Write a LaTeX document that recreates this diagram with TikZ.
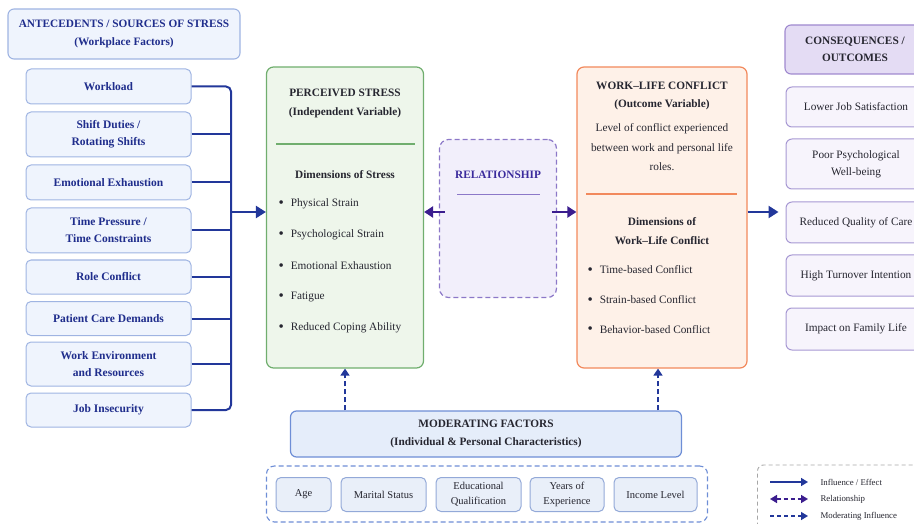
\documentclass[tikz,border=0pt]{standalone}
\usepackage{fontspec}
\setmainfont{Liberation Serif}
\usetikzlibrary{arrows.meta}
\definecolor{navy}{HTML}{22379A}
\definecolor{srctext}{HTML}{1F2D8C}
\definecolor{srcfill}{HTML}{EFF4FD}
\definecolor{srcedge}{HTML}{9FB4E2}
\definecolor{psfill}{HTML}{EEF6EB}
\definecolor{psedge}{HTML}{70AE6E}
\definecolor{wlfill}{HTML}{FEF1E8}
\definecolor{wledge}{HTML}{F2895C}
\definecolor{relfill}{HTML}{F2EFFB}
\definecolor{reledge}{HTML}{8C78C8}
\definecolor{reltext}{HTML}{3A2A9C}
\definecolor{relarrow}{HTML}{3B1D8E}
\definecolor{confill}{HTML}{E4DCF4}
\definecolor{conedge}{HTML}{9F89CF}
\definecolor{outfill}{HTML}{F7F4FC}
\definecolor{outedge}{HTML}{A798D3}
\definecolor{modfill}{HTML}{E5EDFA}
\definecolor{modedge}{HTML}{6E8ED6}
\definecolor{chrfill}{HTML}{E9EFF9}
\definecolor{chredge}{HTML}{93A9D8}
\definecolor{darktext}{HTML}{262630}
\newcommand{\blt}{\raisebox{-0.6pt}{\fontsize{15}{15}\selectfont\textbullet}\hspace{7pt}}

\begin{document}
\begin{tikzpicture}[x=1pt,y=-1pt,
  every node/.style={font=\fontsize{11.3}{17}\selectfont,text=darktext},
  headbox/.style={draw=srcedge,fill=srcfill,rounded corners=6pt,line width=1.1pt,text=srctext,
    font=\fontsize{11.3}{18}\selectfont\bfseries,align=center,minimum width=232pt,minimum height=50pt},
  srcbox/.style={draw=srcedge,fill=srcfill,rounded corners=5pt,line width=1pt,text=srctext,
    font=\fontsize{11.5}{17}\selectfont\bfseries,align=center,minimum width=165pt},
  bigbox/.style={rounded corners=7pt,line width=1.2pt,minimum width=157pt,minimum height=301pt},
  boldtxt/.style={font=\fontsize{11.3}{19}\selectfont\bfseries,align=center},
  plaintxt/.style={font=\fontsize{11.3}{19.5}\selectfont,align=center},
  item/.style={anchor=west,font=\fontsize{11.3}{17}\selectfont},
  conhead/.style={draw=conedge,fill=confill,rounded corners=6pt,line width=1.1pt,
    font=\fontsize{11.3}{17}\selectfont\bfseries,align=center,minimum width=140pt,minimum height=49pt},
  outbox/.style={draw=outedge,fill=outfill,rounded corners=6pt,line width=1pt,align=center,
    minimum width=140pt},
  chrbox/.style={draw=chredge,fill=chrfill,rounded corners=5pt,line width=1pt,align=center,
    font=\fontsize{10.5}{15}\selectfont,minimum height=34pt},
  legtxt/.style={anchor=west,font=\fontsize{8.8}{10}\selectfont},
  bus/.style={draw=navy,line width=2pt},
  flow/.style={draw=navy,line width=2.4pt,-{Triangle[length=10pt,width=12pt]}},
  rel/.style={draw=relarrow,line width=2.2pt,-{Triangle[length=9pt,width=11pt]}},
  mod/.style={draw=navy,line width=1.3pt,dash pattern=on 5pt off 3pt,-{Triangle[length=7pt,width=9pt]}}
]
\useasboundingbox (0,0) rectangle (914,524);

\node[headbox] (ante) at (124,34) {ANTECEDENTS / SOURCES OF STRESS\\(Workplace Factors)};
\node[srcbox,minimum height=35pt] (wl) at (108.5,86.5) {Workload};
\node[srcbox,minimum height=45pt] (sd) at (108.5,134.5) {Shift Duties /\\Rotating Shifts};
\node[srcbox,minimum height=35pt] (ee) at (108.5,182.5) {Emotional Exhaustion};
\node[srcbox,minimum height=45pt] (tp) at (108.5,230.5) {Time Pressure /\\Time Constraints};
\node[srcbox,minimum height=34pt] (rc) at (108.5,277) {Role Conflict};
\node[srcbox,minimum height=34pt] (pc) at (108.5,318.5) {Patient Care Demands};
\node[srcbox,minimum height=44pt] (we) at (108.5,364) {Work Environment\\and Resources};
\node[srcbox,minimum height=34pt] (ji) at (108.5,410) {Job Insecurity};

\node[bigbox,draw=psedge,fill=psfill] (ps) at (345,217.5) {};
\node[boldtxt] (pst) at (345,103) {PERCEIVED STRESS\\(Independent Variable)};
\draw[psedge,line width=1.1pt] (276,144) -- (415,144);
\node[boldtxt] (psd) at (345,175) {Dimensions of Stress};
\node[item] (ps1) at (275,204) {\blt Physical Strain};
\node[item] (ps2) at (275,235) {\blt Psychological Strain};
\node[item] (ps3) at (275,266) {\blt Emotional Exhaustion};
\node[item] (ps4) at (275,297) {\blt Fatigue};
\node[item] (ps5) at (275,328) {\blt Reduced Coping Ability};

\node[draw=reledge,fill=relfill,rounded corners=9pt,line width=1.2pt,dash pattern=on 5pt off 3pt,
  minimum width=117pt,minimum height=158pt] (rl) at (498,218.5) {};
\node[boldtxt,text=reltext] (rlt) at (498,175) {RELATIONSHIP};
\draw[reledge,line width=1pt] (457,195) -- (540,195);

\node[bigbox,draw=wledge,fill=wlfill,minimum width=170pt] (wlc) at (662,217.5) {};
\node[boldtxt,font=\fontsize{11.3}{18}\selectfont\bfseries] (wlt) at (662,96) {WORK–LIFE CONFLICT\\(Outcome Variable)};
\node[plaintxt] (wld) at (662,147.5) {Level of conflict experienced\\between work and personal life\\roles.};
\draw[wledge,line width=1.1pt] (586,194) -- (737,194);
\node[boldtxt] (wlx) at (662,231.5) {Dimensions of\\Work–Life Conflict};
\node[item] (wl1) at (584,270) {\blt Time-based Conflict};
\node[item] (wl2) at (584,300) {\blt Strain-based Conflict};
\node[item] (wl3) at (584,329.5) {\blt Behavior-based Conflict};

\node[conhead] (con) at (855,49.5) {CONSEQUENCES /\\OUTCOMES};
\node[outbox,minimum height=40pt] (o1) at (856,107) {Lower Job Satisfaction};
\node[outbox,minimum height=50pt] (o2) at (856,164) {Poor Psychological\\Well-being};
\node[outbox,minimum height=41pt] (o3) at (856,222.5) {Reduced Quality of Care};
\node[outbox,minimum height=41pt] (o4) at (856,275.5) {High Turnover Intention};
\node[outbox,minimum height=42pt] (o5) at (856,329) {Impact on Family Life};

\node[draw=modedge,fill=modfill,rounded corners=6pt,line width=1.2pt,minimum width=391pt,minimum height=46pt,
  font=\fontsize{11.3}{18}\selectfont\bfseries,align=center] (mf) at (486,434)
  {MODERATING FACTORS\\(Individual \& Personal Characteristics)};
\node[draw=modedge,rounded corners=8pt,line width=1.1pt,dash pattern=on 5pt off 3pt,
  minimum width=441pt,minimum height=56pt] (chr) at (487,494) {};
\node[chrbox,minimum width=55pt] (age) at (303.5,494.5) {Age};
\node[chrbox,minimum width=85pt] (ms) at (383.5,494.5) {Marital Status};
\node[chrbox,minimum width=85pt] (eq) at (478.5,494.5) {Educational\\Qualification};
\node[chrbox,minimum width=74pt] (ye) at (567,494.5) {Years of\\Experience};
\node[chrbox,minimum width=83pt] (il) at (655.5,494.5) {Income Level};

\coordinate (axis) at (231,212);
\draw[bus,rounded corners=5pt] (wl.east) -| (axis) |- (ji.east);
\draw[bus] (sd.east) -- (sd.east -| axis);
\draw[bus] (ee.east) -- (ee.east -| axis);
\draw[bus] (tp.east) -- (tp.east -| axis);
\draw[bus] (rc.east) -- (rc.east -| axis);
\draw[bus] (pc.east) -- (pc.east -| axis);
\draw[bus] (we.east) -- (we.east -| axis);
\draw[flow] (axis) -- (axis -| ps.west);
\draw[rel] ([xshift=6pt]rl.west |- axis) -- (ps.east |- axis);
\draw[rel] ([xshift=-5pt]rl.east |- axis) -- (wlc.west |- axis);
\draw[flow] (wlc.east |- axis) -- ([xshift=-7pt]o3.west |- axis);
\draw[mod] (mf.north -| ps.south) -- (ps.south);
\draw[mod] ([xshift=-4pt]mf.north -| wlc.south) -- ([xshift=-4pt]wlc.south);

\node[draw=gray!70,rounded corners=6pt,line width=0.9pt,dash pattern=on 4pt off 3pt,
  minimum width=175pt,minimum height=80pt] (leg) at (845,505) {};
\coordinate (la1) at (770,482);
\coordinate (lb1) at (808,482);
\coordinate (la2) at (770,499);
\coordinate (lb2) at (808,499);
\coordinate (la3) at (770,516);
\coordinate (lb3) at (808,516);
\draw[draw=navy,line width=1.6pt,-{Triangle[length=7pt,width=8pt]}] (la1) -- (lb1);
\draw[draw=relarrow,line width=1.6pt,dash pattern=on 4pt off 3pt,{Triangle[length=7pt,width=8pt]}-{Triangle[length=7pt,width=8pt]}] (la2) -- (lb2);
\draw[draw=navy,line width=1.4pt,dash pattern=on 4pt off 3pt,-{Triangle[length=7pt,width=8pt]}] (la3) -- (lb3);
\node[legtxt] (lt1) at (817,482) {Influence / Effect};
\node[legtxt] (lt2) at (817,499) {Relationship};
\node[legtxt] (lt3) at (817,516) {Moderating Influence};
\end{tikzpicture}
\end{document}
